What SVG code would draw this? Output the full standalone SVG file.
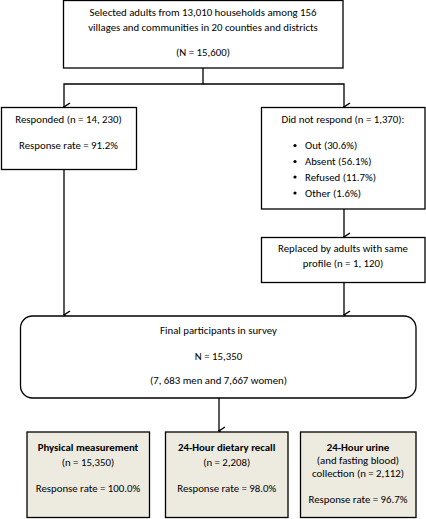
<svg xmlns="http://www.w3.org/2000/svg" width="426" height="519" viewBox="0 0 426 519">
<style>
text{font-family:Carlito,Lato,"Liberation Sans",sans-serif;font-size:10.8px;fill:#000;text-anchor:middle}
.b{font-weight:bold}
.l{text-anchor:start}
.box{fill:#fff;stroke:#000;stroke-width:1.3}
.sub{fill:#EDEAE0;stroke:#000;stroke-width:1.3}
.con{fill:none;stroke:#000;stroke-width:1.3}
</style>
<defs>
<marker id="ah" viewBox="0 0 10 8" refX="5" refY="7" markerWidth="10" markerHeight="8" markerUnits="userSpaceOnUse" orient="auto-start-reverse">
<path d="M1,1 L5,7 L9,1" fill="none" stroke="#000" stroke-width="1.4"/>
</marker>
</defs>
<rect width="426" height="519" fill="#fff"/>
<g id="connectors">
<path class="con" d="M203,68 V84 H64 V107" marker-end="url(#ah)"/>
<path class="con" d="M203,84 H344 V107" marker-end="url(#ah)"/>
<path class="con" d="M64,169 V315" marker-end="url(#ah)"/>
<path class="con" d="M344,209 V237" marker-end="url(#ah)"/>
<path class="con" d="M344,283 V315" marker-end="url(#ah)"/>
<path class="con" d="M219,398 V431" marker-end="url(#ah)"/>
</g>
<g id="selected">
<rect class="box" x="63.5" y="0.5" width="279.5" height="67.5"/>
<text x="203" y="16">Selected adults from 13,010 households among 156</text>
<text x="203" y="30.5">villages and communities in 20 counties and districts</text>
<text x="203" y="56">(N = 15,600)</text>
</g>
<g id="responded">
<rect class="box" x="1.5" y="107.5" width="135" height="62"/>
<text x="68.5" y="123">Responded (n = 14, 230)</text>
<text x="68.5" y="149">Response rate = 91.2%</text>
</g>
<g id="nonresponse">
<rect class="box" x="261.5" y="107.5" width="163.5" height="101.5"/>
<text x="343" y="123">Did not respond (n = 1,370):</text>
<g>
<circle cx="295" cy="145.5" r="1.6"/><text class="l" x="305" y="149">Out (30.6%)</text>
<circle cx="295" cy="161.5" r="1.6"/><text class="l" x="305" y="165">Absent (56.1%)</text>
<circle cx="295" cy="177" r="1.6"/><text class="l" x="305" y="180.5">Refused (11.7%)</text>
<circle cx="295" cy="193" r="1.6"/><text class="l" x="305" y="196.5">Other (1.6%)</text>
</g>
</g>
<g id="replaced">
<rect class="box" x="261.5" y="237.5" width="163.5" height="45"/>
<text x="343" y="251.5">Replaced by adults with same</text>
<text x="343" y="267">profile (n = 1, 120)</text>
</g>
<g id="final">
<rect class="box" x="20.5" y="316" width="395.5" height="82" rx="12" ry="12"/>
<text x="218.5" y="334">Final participants in survey</text>
<text x="218.5" y="360">N = 15,350</text>
<text x="218.5" y="384">(7, 683 men and 7,667 women)</text>
</g>
<g id="physical">
<rect class="sub" x="27" y="432" width="122.5" height="85.5"/>
<text class="b" x="88" y="451">Physical measurement</text>
<text x="88" y="465.5">(n = 15,350)</text>
<text x="88" y="492">Response rate = 100.0%</text>
</g>
<g id="dietary">
<rect class="sub" x="165.5" y="432" width="122.5" height="85.5"/>
<text class="b" x="226.7" y="451">24-Hour dietary recall</text>
<text x="226.7" y="465.5">(n = 2,208)</text>
<text x="226.7" y="492">Response rate = 98.0%</text>
</g>
<g id="urine">
<rect class="sub" x="300.5" y="432" width="115.5" height="85.5"/>
<text class="b" x="358" y="451">24-Hour urine</text>
<text x="358" y="464">(and fasting blood)</text>
<text x="358" y="477">collection (n = 2,112)</text>
<text x="358" y="503">Response rate = 96.7%</text>
</g>
</svg>
